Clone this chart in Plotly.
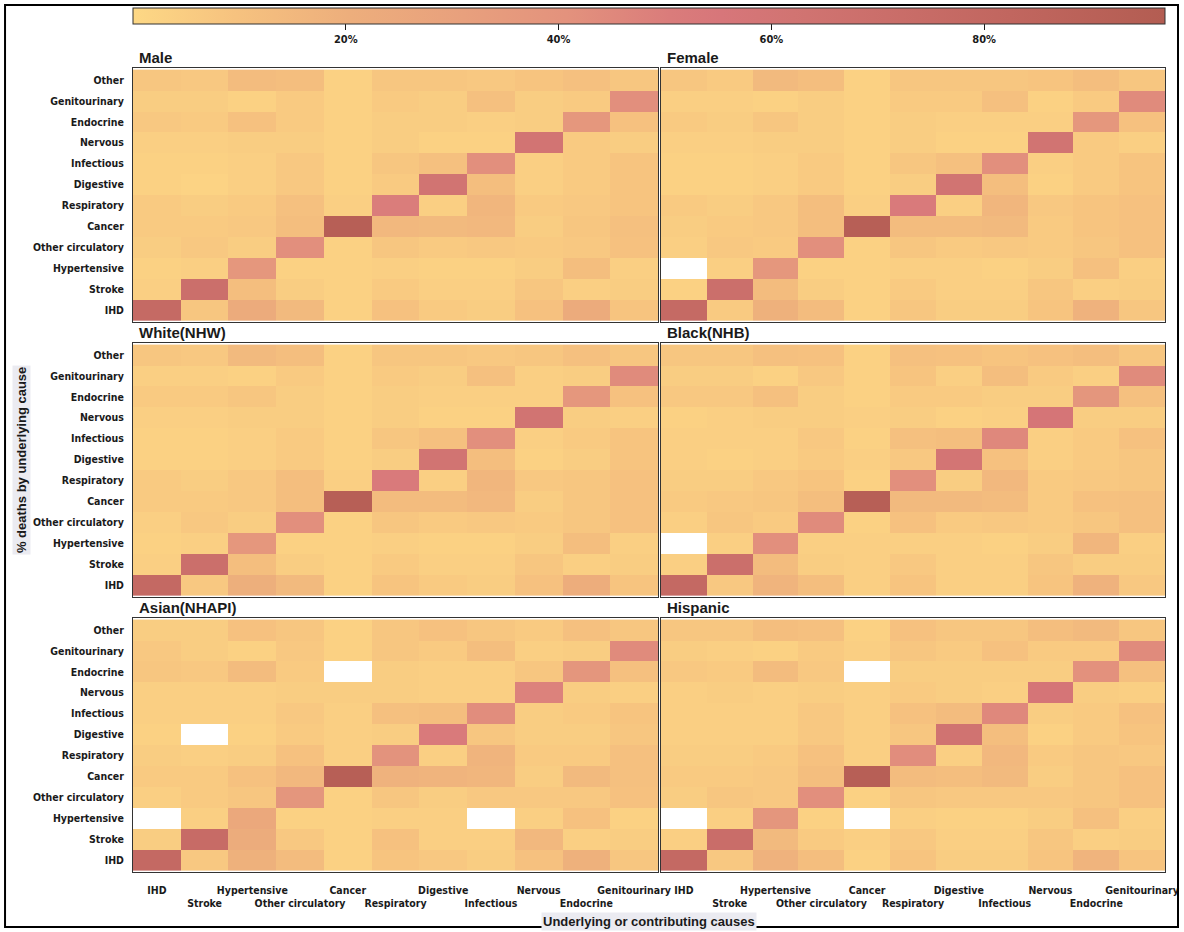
import plotly.graph_objects as go

# row order is bottom -> top of each panel
underlying = ["IHD", "Stroke", "Hypertensive", "Other circulatory", "Cancer", "Respiratory",
              "Digestive", "Infectious", "Nervous", "Endocrine", "Genitourinary", "Other"]
contributing = ["IHD", "Stroke", "Hypertensive", "Other circulatory", "Cancer", "Respiratory",
                "Digestive", "Infectious", "Nervous", "Endocrine", "Genitourinary"]

# % deaths, rows follow `underlying`, columns follow `contributing` (None = no data)
male = [
    [77, 8, 23, 14, 3, 10, 6, 5, 10, 23, 9],
    [4, 70, 12, 5, 3, 6, 4, 4, 8, 4, 5],
    [3, 4, 37, 3, 3, 4, 3, 3, 5, 12, 4],
    [5, 7, 5, 42, 3, 8, 6, 7, 6, 7, 10],
    [6, 6, 7, 12, 93, 15, 14, 15, 5, 8, 11],
    [6, 5, 6, 11, 4, 50, 4, 16, 6, 7, 9],
    [3, 2, 4, 7, 3, 6, 62, 12, 4, 6, 9],
    [3, 3, 4, 7, 3, 8, 11, 42, 4, 6, 9],
    [4, 4, 5, 5, 3, 5, 3, 3, 61, 6, 5],
    [7, 6, 10, 6, 3, 5, 5, 4, 5, 37, 10],
    [5, 5, 3, 6, 3, 6, 5, 11, 5, 6, 42],
    [8, 7, 13, 12, 3, 8, 8, 7, 9, 11, 8],
]
female = [
    [77, 6, 19, 13, 3, 8, 5, 5, 9, 18, 8],
    [3, 70, 13, 5, 3, 6, 4, 4, 8, 4, 5],
    [None, 4, 37, 3, 3, 4, 4, 3, 5, 11, 4],
    [4, 7, 6, 42, 3, 8, 6, 7, 6, 8, 10],
    [5, 6, 7, 12, 93, 13, 13, 14, 6, 9, 10],
    [6, 5, 7, 12, 4, 52, 4, 16, 7, 9, 10],
    [3, 3, 4, 6, 3, 5, 62, 12, 3, 6, 9],
    [3, 3, 4, 6, 3, 8, 11, 42, 4, 6, 9],
    [4, 4, 5, 5, 3, 5, 3, 3, 62, 6, 4],
    [6, 5, 8, 5, 3, 5, 4, 4, 4, 37, 10],
    [4, 4, 3, 5, 3, 6, 6, 11, 3, 6, 44],
    [8, 6, 14, 12, 3, 8, 8, 8, 9, 12, 8],
]
white = [
    [78, 7, 20, 14, 3, 9, 6, 5, 10, 21, 9],
    [4, 70, 12, 5, 3, 6, 4, 4, 8, 4, 5],
    [3, 4, 37, 3, 3, 4, 3, 3, 5, 12, 4],
    [4, 7, 5, 42, 3, 8, 6, 7, 6, 8, 10],
    [6, 6, 7, 12, 93, 13, 13, 15, 5, 8, 10],
    [6, 5, 7, 12, 4, 52, 4, 16, 7, 8, 10],
    [3, 3, 4, 6, 3, 5, 62, 12, 3, 5, 9],
    [3, 3, 4, 6, 3, 8, 11, 42, 4, 6, 9],
    [4, 4, 5, 5, 3, 5, 3, 3, 62, 5, 4],
    [6, 6, 8, 5, 3, 5, 4, 4, 4, 37, 10],
    [4, 4, 3, 6, 3, 6, 5, 11, 4, 5, 44],
    [8, 7, 14, 12, 3, 8, 8, 7, 8, 11, 8],
]
black = [
    [78, 7, 17, 12, 4, 9, 4, 4, 9, 18, 7],
    [4, 70, 13, 5, 4, 7, 4, 4, 8, 5, 5],
    [None, 4, 42, 4, 4, 4, 4, 3, 5, 16, 4],
    [4, 8, 6, 44, 3, 10, 6, 7, 6, 8, 11],
    [6, 7, 8, 12, 93, 14, 14, 13, 6, 10, 11],
    [5, 5, 7, 9, 3, 42, 5, 15, 6, 7, 8],
    [4, 3, 4, 6, 4, 7, 60, 10, 4, 6, 8],
    [4, 4, 4, 7, 3, 11, 12, 45, 4, 6, 10],
    [3, 4, 5, 5, 4, 5, 3, 4, 58, 5, 5],
    [7, 7, 11, 5, 3, 6, 6, 5, 5, 38, 11],
    [5, 5, 3, 7, 3, 9, 4, 12, 6, 4, 44],
    [8, 8, 11, 10, 3, 11, 10, 9, 10, 12, 8],
]
asian = [
    [78, 7, 19, 13, 3, 9, 7, 5, 10, 19, 8],
    [5, 75, 22, 7, 3, 10, 4, 4, 15, 4, 5],
    [None, 4, 25, 3, 3, 4, 4, None, 4, 10, 3],
    [4, 6, 8, 38, 3, 8, 5, 7, 7, 7, 10],
    [6, 6, 10, 15, 93, 18, 17, 16, 5, 14, 11],
    [5, 4, 5, 10, 4, 40, 4, 17, 6, 6, 11],
    [3, None, 3, 6, 4, 5, 52, 8, 5, 5, 8],
    [4, 4, 4, 7, 4, 11, 12, 43, 5, 6, 9],
    [4, 4, 4, 5, 5, 5, 4, 4, 48, 5, 4],
    [8, 7, 13, 6, None, 5, 4, 4, 8, 38, 11],
    [7, 5, 3, 7, 3, 8, 6, 12, 4, 5, 44],
    [5, 5, 10, 8, 3, 8, 10, 8, 6, 11, 8],
]
hispanic = [
    [78, 7, 18, 12, 3, 9, 5, 5, 9, 17, 9],
    [4, 72, 14, 6, 4, 7, 4, 4, 8, 4, 5],
    [None, 4, 38, 3, None, 4, 3, 3, 5, 11, 4],
    [5, 8, 7, 42, 3, 8, 7, 7, 7, 8, 10],
    [6, 6, 7, 12, 93, 13, 12, 14, 5, 8, 10],
    [5, 5, 6, 10, 4, 43, 4, 15, 6, 8, 7],
    [4, 4, 4, 7, 4, 8, 63, 12, 3, 6, 9],
    [4, 4, 4, 7, 4, 10, 13, 45, 5, 6, 10],
    [4, 5, 4, 5, 4, 6, 5, 4, 58, 5, 4],
    [7, 6, 13, 7, None, 5, 5, 5, 5, 41, 11],
    [5, 4, 3, 6, 4, 8, 6, 10, 6, 6, 44],
    [8, 8, 12, 11, 3, 10, 8, 8, 12, 14, 8],
]

panel_titles = ["Male", "Female", "White(NHW)", "Black(NHB)", "Asian(NHAPI)", "Hispanic"]
panel_data = [male, female, white, black, asian, hispanic]

colorbar_ticks = [20, 40, 60, 80]
colorscale = [
    [0.0, "#FDD885"], [0.1, "#F6C27F"], [0.21, "#EDAE7C"], [0.32, "#E8A07D"],
    [0.42, "#E3927D"], [0.52, "#DA7C7B"], [0.57, "#D7767A"], [0.64, "#D17472"],
    [0.85, "#C1665F"], [1.0, "#B35D52"],
]

# second-row labels get a leading line break so they sit below the first row
x_ticktext = [c if i % 2 == 0 else "<br>" + c for i, c in enumerate(contributing)]

narrow = "DejaVu Sans Condensed, Liberation Sans Narrow, Arial Narrow, Arial"
tick_font = dict(family=narrow, size=10.5, color="#1a1a1a", weight="bold")

x_domains = [[0.0, 0.5087], [0.5116, 1.0]]
y_domains = [[0.684, 1.0], [0.342, 0.658], [0.0, 0.316]]

fig = go.Figure()
layout_axes = {}
annotations = []

for i, (title, z) in enumerate(zip(panel_titles, panel_data)):
    n = i + 1
    row, col = i // 2, i % 2
    sfx = "" if n == 1 else str(n)
    fig.add_trace(go.Heatmap(
        z=z, x=contributing, y=underlying,
        coloraxis="coloraxis",
        xaxis="x" + sfx, yaxis="y" + sfx,
        hovertemplate="%{y} / %{x}: %{z}%<extra>" + title + "</extra>",
    ))
    layout_axes["xaxis" + sfx] = dict(
        domain=x_domains[col], anchor="y" + sfx, type="category",
        categoryorder="array", categoryarray=contributing,
        range=[-0.5, 10.5], showgrid=False, zeroline=False,
        showline=True, mirror=True, linecolor="#333333", linewidth=1,
        tickmode="array", tickvals=contributing, ticktext=x_ticktext,
        tickangle=0, automargin=False,
        showticklabels=(row == 2), ticks="outside", ticklen=8,
        tickcolor="rgba(0,0,0,0)", tickfont=tick_font,
    )
    layout_axes["yaxis" + sfx] = dict(
        domain=y_domains[row], anchor="x" + sfx, type="category",
        categoryorder="array", categoryarray=underlying,
        range=[-0.58, 11.58], showgrid=False, zeroline=False,
        showline=True, mirror=True, linecolor="#333333", linewidth=1,
        automargin=False,
        showticklabels=(col == 0), ticks="outside", ticklen=6,
        tickcolor="rgba(0,0,0,0)", tickfont=tick_font,
    )
    annotations.append(dict(
        text=title, xref="paper", yref="paper",
        x=x_domains[col][0] + 0.004, y=y_domains[row][1],
        xanchor="left", yanchor="bottom", yshift=0, showarrow=False,
        font=dict(family="Liberation Sans, Arial", size=15, color="#1a1a1a", weight="bold"),
    ))

annotations.append(dict(
    text="% deaths by underlying cause", xref="paper", yref="paper",
    x=-0.1085, y=0.5124, textangle=-90, showarrow=False,
    xanchor="center", yanchor="middle", bgcolor="#EBEBF1",
    font=dict(family="Liberation Sans, Arial", size=13, color="#1a1a1a", weight="bold"),
))
annotations.append(dict(
    text="Underlying or contributing causes", xref="paper", yref="paper",
    x=0.5, y=-0.061, showarrow=False, xanchor="center", yanchor="middle",
    bgcolor="#EBEBF1",
    font=dict(family="Liberation Sans, Arial", size=13, color="#1a1a1a", weight="bold"),
))

fig.update_layout(
    width=1184, height=932,
    margin=dict(l=133, r=19, t=68, b=60, autoexpand=False),
    paper_bgcolor="white", plot_bgcolor="white",
    coloraxis=dict(
        colorscale=colorscale, cmin=0, cmax=97,
        colorbar=dict(
            orientation="h", x=0, xanchor="left", y=1.0746, yanchor="top",
            len=1, lenmode="fraction", thickness=16,
            outlinecolor="#333333", outlinewidth=1, xpad=0, ypad=0,
            tickmode="array", tickvals=colorbar_ticks,
            ticktext=[f"{t}%" for t in colorbar_ticks],
            ticks="outside", ticklen=6, tickcolor="#1a1a1a",
            tickfont=dict(family=narrow, size=11, color="#1a1a1a", weight="bold"),
        ),
    ),
    annotations=annotations,
    shapes=[dict(type="rect", xref="paper", yref="paper",
                 x0=-0.124, x1=1.0126, y0=-0.0684, y1=1.0784,
                 line=dict(color="black", width=2), layer="above")],
    **layout_axes,
)

# drop the page's default body margin so the 1184x932 figure fills the window
fig.write_html("out.html", config={"displayModeBar": False},
               post_script="document.body.style.margin='0';")
